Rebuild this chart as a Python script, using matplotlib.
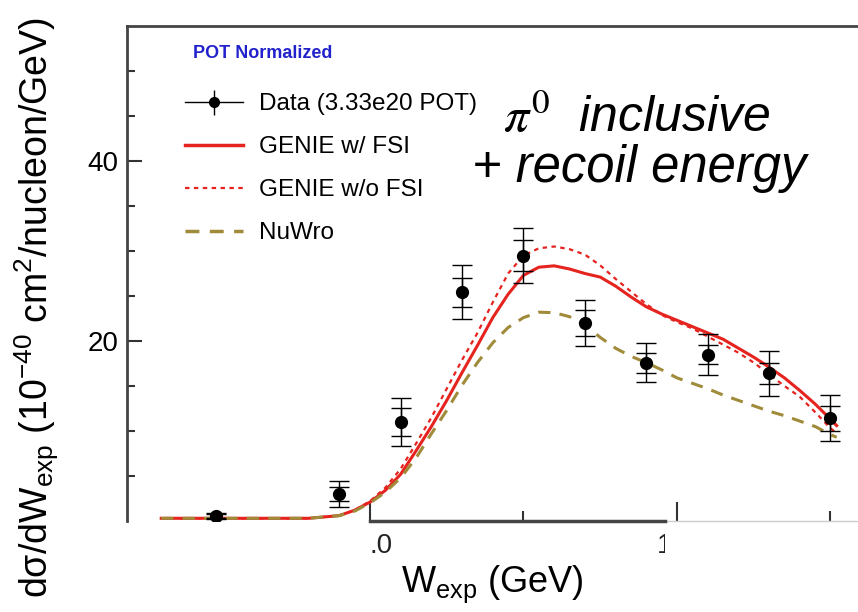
import matplotlib
matplotlib.use("Agg")
import matplotlib.pyplot as plt
from matplotlib.lines import Line2D
from matplotlib.patches import Rectangle

plt.rcParams["font.family"] = ["Liberation Sans", "DejaVu Sans"]
plt.rcParams["mathtext.fontset"] = "custom"
plt.rcParams["mathtext.rm"] = "Liberation Sans"
plt.rcParams["mathtext.it"] = "Liberation Sans:italic"

# data points
w_data = [-0.5, -0.1, 0.1, 0.3, 0.5, 0.7, 0.9, 1.1, 1.3, 1.5]
xsec_data = [0.55, 3.0, 11.0, 25.4, 29.5, 22.0, 17.6, 18.5, 16.4, 11.4]
err_total = [0.3, 1.4, 2.7, 3.0, 3.05, 2.6, 2.2, 2.3, 2.5, 2.55]
err_stat = [0.2, 0.8, 1.6, 1.6, 1.7, 1.4, 1.1, 1.1, 1.2, 1.4]

# model curves
w_curve = [-0.68, -0.4, -0.2, -0.1, -0.05, 0.0, 0.05, 0.1, 0.15, 0.2, 0.25,
           0.3, 0.35, 0.4, 0.45, 0.5, 0.55, 0.6, 0.65, 0.7, 0.75, 0.8, 0.85,
           0.9, 0.95, 1.0, 1.05, 1.1, 1.15, 1.2, 1.25, 1.3, 1.35, 1.4, 1.45,
           1.5, 1.52]
genie_fsi = [0.3, 0.3, 0.3, 0.6, 1.2, 2.1, 3.4, 5.2, 7.8, 10.5, 13.4,
             16.5, 19.5, 22.6, 25.2, 27.3, 28.2, 28.35, 28.0, 27.5, 27.1, 26.1, 24.9,
             23.8, 23.0, 22.3, 21.6, 20.9, 20.2, 19.2, 18.2, 17.1, 15.9, 14.5, 13.0,
             11.3, 10.6]
genie_nofsi = [0.3, 0.3, 0.3, 0.6, 1.2, 2.2, 3.7, 5.8, 8.6, 11.5, 14.7,
               17.9, 20.9, 24.3, 27.5, 29.5, 30.3, 30.5, 30.2, 29.6, 28.4, 26.9, 25.5,
               24.1, 22.9, 22.1, 21.4, 20.5, 19.6, 18.7, 17.6, 16.3, 15.0, 13.8, 12.1,
               10.3, 9.8]
nuwro = [0.3, 0.3, 0.3, 0.6, 1.1, 2.0, 3.2, 4.8, 7.0, 9.7, 12.3,
         15.1, 17.6, 19.8, 21.5, 22.6, 23.2, 23.15, 22.7, 21.8, 20.4, 19.2, 18.3,
         17.6, 16.8, 15.9, 15.3, 14.7, 14.0, 13.4, 12.8, 12.2, 11.7, 11.1, 10.5,
         9.6, 9.3]

red = "#e5231f"
olive = "#9f8b3a"

fig = plt.figure(figsize=(8.58, 6.12), dpi=100)
ax = fig.add_axes([127 / 858, 1 - 521 / 612, 1 - 127 / 858, (521 - 26) / 612])

ax.plot(w_curve, genie_fsi, color=red, lw=2.2, zorder=3)
ax.plot(w_curve, genie_nofsi, color=red, lw=1.6, ls=(0, (2, 2)), zorder=3)
ax.plot(w_curve, nuwro, color=olive, lw=2.2, ls=(0, (4, 3)), zorder=3)

ax.errorbar(w_data, xsec_data, yerr=err_total, fmt="o", color="black",
            ms=8.5, elinewidth=1, capsize=7.5, capthick=1, zorder=5)
ax.errorbar(w_data, xsec_data, yerr=err_stat, fmt="none", ecolor="black",
            elinewidth=1, capsize=7.5, capthick=1, zorder=5)

ax.set_xlim(-0.7915, 1.5896)
ax.set_ylim(0, 55)

ax.set_xticks([0, 1])
ax.set_xticks([0.5, 1.5], minor=True)
ax.set_xticklabels(["", ""])
ax.set_yticks([20, 40])
ax.set_yticks([5, 10, 15, 25, 30, 35, 45, 50], minor=True)
ax.tick_params(axis="both", which="both", direction="in", labelsize=20, width=1.5, color="#333333")
ax.tick_params(axis="x", which="major", length=14)
ax.tick_params(axis="x", which="minor", length=7)
ax.tick_params(axis="y", which="major", length=11, pad=6)
ax.tick_params(axis="y", which="minor", length=6)

for s in ["left", "top"]:
    ax.spines[s].set_linewidth(2)
    ax.spines[s].set_color("#444444")
ax.spines["right"].set_visible(False)
ax.spines["bottom"].set_bounds(0, 0.961)
ax.spines["bottom"].set_linewidth(2.5)
ax.spines["bottom"].set_color("#444444")
ax.plot([0.961, 1.5896], [0, 0], color="#cccccc", lw=1, clip_on=False)

# partially covered tick labels
ax.text(0, -1.3, ".0", ha="left", va="top", fontsize=20, color="#222222")
ax.text(0.935, -1.3, "1", ha="left", va="top", fontsize=20, color="#222222")
fig.patches.append(Rectangle((665 / 858, 1 - 570 / 612), 60 / 858, 45 / 612,
                             transform=fig.transFigure, facecolor="white",
                             edgecolor="none", zorder=10))

ax.set_ylabel("dσ/dW$_{\\rm exp}$ (10$^{-40}$ cm$^{2}$/nucleon/GeV)", fontsize=27)
ax.set_xlabel("W$_{\\rm exp}$ (GeV)", fontsize=26, labelpad=27)
ax.yaxis.set_label_coords(-0.09, 0.432)

ax.text(193, 612 - 53, "POT Normalized", transform=None, color="#2222cc",
        fontsize=13, fontweight="bold", va="center")

h_data = (Line2D([], [], color="black", lw=1, marker="o", ms=7),
          Line2D([], [], color="black", marker="|", ms=18, mew=1, ls="none"))
h_fsi = Line2D([], [], color=red, lw=2.5)
h_nofsi = Line2D([], [], color=red, lw=1.6, ls=(0, (2, 2)))
h_nuwro = Line2D([], [], color=olive, lw=2.5, ls=(0, (4, 3)))
ax.legend([h_data, h_fsi, h_nofsi, h_nuwro],
          ["Data (3.33e20 POT)", "GENIE w/ FSI", "GENIE w/o FSI", "NuWro"],
          loc="upper left", bbox_to_anchor=(185 / 858, 1 - 93 / 612),
          bbox_transform=fig.transFigure, frameon=False, fontsize=17.5,
          handlelength=2.4, handletextpad=0.65, labelspacing=0.87,
          borderpad=0, borderaxespad=0)

ax.text(503, 612 - 132, "$\\pi^0$  inclusive", transform=None, fontsize=36,
        style="italic", math_fontfamily="stix", va="baseline")
ax.text(472, 612 - 182, "+ recoil energy", transform=None, fontsize=36.5,
        style="italic", va="baseline")

fig.savefig("out.png", dpi=100)
